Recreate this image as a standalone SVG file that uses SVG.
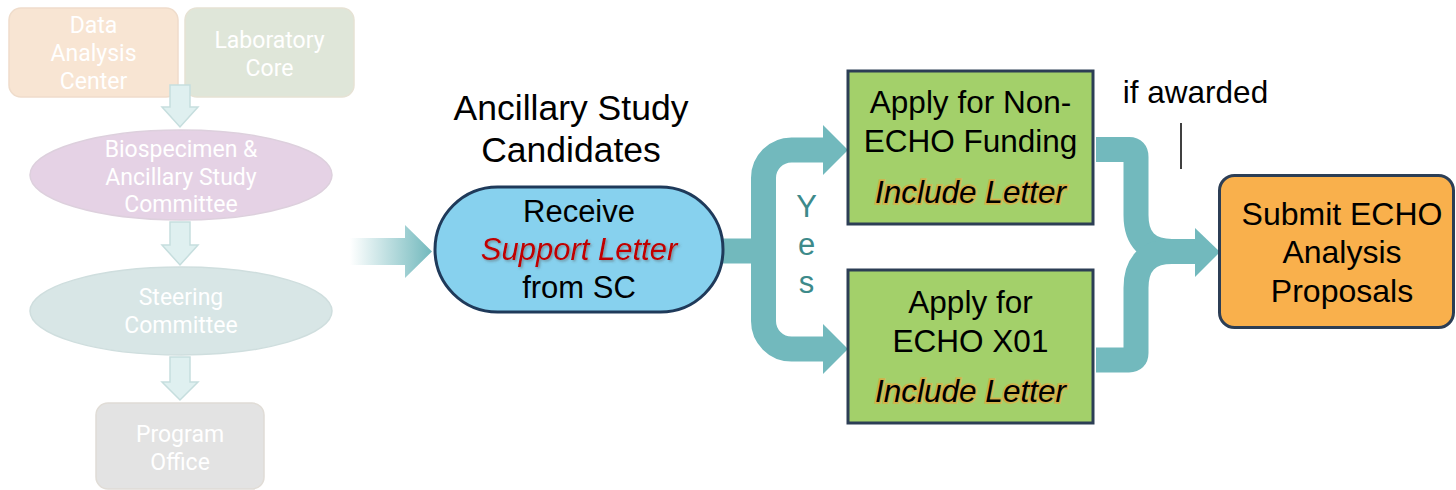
<svg xmlns="http://www.w3.org/2000/svg" width="1456" height="490" viewBox="0 0 1456 490">
<defs>
<style>
.ft{font-family:Roboto,"Liberation Sans",sans-serif;font-size:23px;fill:#ffffff;text-anchor:middle}
.t{font-family:"Liberation Sans",Arial,sans-serif;fill:#000;text-anchor:middle}
.fa{fill:#dff0f0;stroke:#c6dede;stroke-width:1.5}
.band{fill:none;stroke:#72b9bd;stroke-width:25}
.head{fill:#72b9bd}
.green{fill:#a3d06a;stroke:#2c3e55;stroke-width:3}
.inc{font-style:italic;stroke:#e8a53c;stroke-width:3.5;stroke-opacity:0.7;paint-order:stroke}
</style>
<linearGradient id="fade" x1="350" y1="0" x2="432" y2="0" gradientUnits="userSpaceOnUse">
<stop offset="0" stop-color="#72b9bd" stop-opacity="0"/>
<stop offset="1" stop-color="#72b9bd" stop-opacity="1"/>
</linearGradient>
<filter id="sh" x="-10%" y="-30%" width="120%" height="160%">
<feDropShadow dx="1.5" dy="1.5" stdDeviation="1" flood-color="#555" flood-opacity="0.5"/>
</filter>
</defs>

<g id="faded">
<g id="dac"><rect x="9" y="8" width="169" height="89" rx="12" fill="#f8e5d3" stroke="#efdccb" stroke-width="1.5"/>
<text class="ft" x="93.5" y="33">Data</text><text class="ft" x="93.5" y="61">Analysis</text><text class="ft" x="93.5" y="89">Center</text></g>
<g id="lab"><rect x="185" y="8" width="169" height="89" rx="12" fill="#dfe6d9" stroke="#e6e2d4" stroke-width="1.5"/>
<text class="ft" x="269.5" y="48">Laboratory</text><text class="ft" x="269.5" y="76">Core</text></g>
<g id="a1"><path class="fa" d="M170,85 H190 V107 H198 L180,127 L162,107 H170 Z"/></g>
<g id="bio"><ellipse cx="181" cy="175" rx="151" ry="45" fill="#e5d2e5" stroke="#ddd0dd" stroke-width="1.5"/>
<text class="ft" x="181" y="157">Biospecimen &amp;</text><text class="ft" x="181" y="185">Ancillary Study</text><text class="ft" x="181" y="212">Committee</text></g>
<g id="a2"><path class="fa" d="M170,222 H190 V245 H198 L180,265 L162,245 H170 Z"/></g>
<g id="sc"><ellipse cx="181" cy="311" rx="151" ry="44" fill="#d8e6e6" stroke="#cfdede" stroke-width="1.5"/>
<text class="ft" x="181" y="305">Steering</text><text class="ft" x="181" y="333">Committee</text></g>
<g id="a3"><path class="fa" d="M170,357 H190 V382 H198 L180,400 L162,382 H170 Z"/></g>
<g id="po"><rect x="96" y="403" width="168" height="86" rx="12" fill="#e3e3e3" stroke="#e0dcd6" stroke-width="1.5"/>
<text class="ft" x="180" y="442">Program</text><text class="ft" x="180" y="470">Office</text></g>
</g>

<g id="connectors">
<path d="M350,238 H405 V225 L432,251.5 L405,278 V265 H350 Z" fill="url(#fade)"/>
<path class="band" d="M722,251 H763.5 V178 A28,28 0 0 1 791.5,150 H826"/>
<path class="band" d="M763.5,251 V321 A28,28 0 0 0 791.5,349 H826"/>
<polygon class="head" points="823,125 848,150 823,175"/>
<polygon class="head" points="823,324 848,349 823,374"/>
<path class="band" d="M1096,149.5 H1129 Q1136,149.5 1136,157 V215 Q1136,251.5 1172,251.5 H1197"/>
<path class="band" d="M1096,360 H1129 Q1136,360 1136,353 V288 Q1136,251.5 1172,251.5"/>
<polygon class="head" points="1195,228 1220,252 1195,277"/>
<line x1="1181" y1="123" x2="1181" y2="169" stroke="#000" stroke-width="1.5"/>
</g>

<g id="title"><text class="t" x="571" y="120" font-size="35.5">Ancillary Study</text><text class="t" x="571" y="162" font-size="35.5">Candidates</text></g>

<g id="receive"><rect x="435" y="187" width="288" height="125" rx="62.5" fill="#87d1ee" stroke="#1f3a5a" stroke-width="3"/>
<text class="t" x="579" y="222" font-size="31">Receive</text>
<text class="t" x="579" y="260" font-size="31" font-style="italic" style="fill:#c00000" filter="url(#sh)">Support Letter</text>
<text class="t" x="579" y="298" font-size="31">from SC</text></g>

<g id="yes"><text x="806.5" y="217" font-family="Liberation Sans,Arial,sans-serif" font-size="31" fill="#3d8a8a" text-anchor="middle">Y</text>
<text x="806.5" y="255" font-family="Liberation Sans,Arial,sans-serif" font-size="31" fill="#3d8a8a" text-anchor="middle">e</text>
<text x="806.5" y="293" font-family="Liberation Sans,Arial,sans-serif" font-size="31" fill="#3d8a8a" text-anchor="middle">s</text></g>

<g id="nonecho"><rect class="green" x="848" y="71" width="245" height="153"/>
<text class="t" x="970.5" y="113" font-size="31.5">Apply for Non-</text>
<text class="t" x="970.5" y="152" font-size="31.5">ECHO Funding</text>
<text class="t inc" x="970.5" y="203" font-size="31.5">Include Letter</text></g>

<g id="x01"><rect class="green" x="848" y="270" width="245" height="153"/>
<text class="t" x="970.5" y="313" font-size="31.5">Apply for</text>
<text class="t" x="970.5" y="352" font-size="31.5">ECHO X01</text>
<text class="t inc" x="970.5" y="402" font-size="31.5">Include Letter</text></g>

<g id="awarded"><text class="t" x="1195.5" y="103" font-size="31.5">if awarded</text></g>

<g id="submit"><rect x="1219.5" y="175.5" width="234" height="152" rx="15" fill="#f9b04c" stroke="#2c3e55" stroke-width="3"/>
<text class="t" x="1342" y="225" font-size="32">Submit ECHO</text>
<text class="t" x="1342" y="263" font-size="32">Analysis</text>
<text class="t" x="1342" y="302" font-size="32">Proposals</text></g>
</svg>
